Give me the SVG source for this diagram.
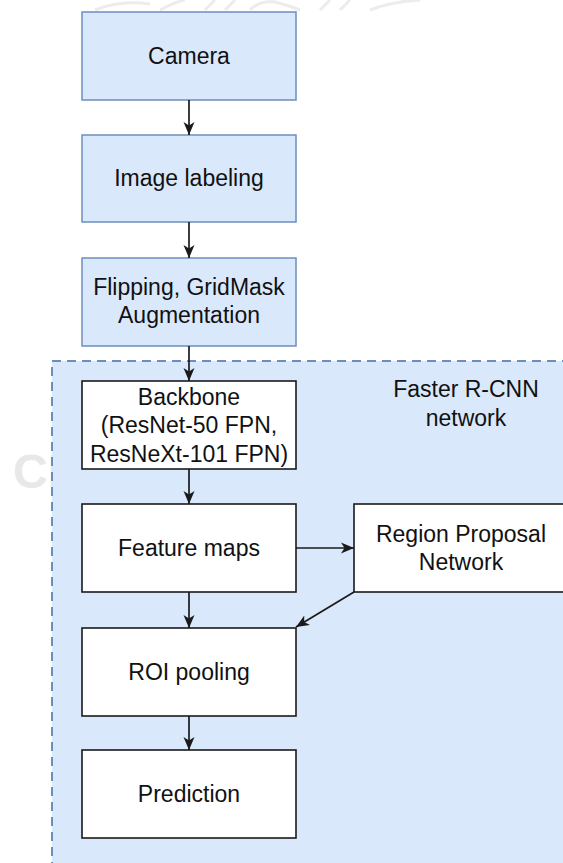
<svg xmlns="http://www.w3.org/2000/svg" width="563" height="863" viewBox="0 0 563 863">
  <defs>
    <style>
      .lbl { font-family: "Liberation Sans", Arial, sans-serif; font-size: 23px; fill: #111111; text-anchor: middle; }
      .blue { fill: #dae8fc; stroke: #6c8ebf; stroke-width: 1.5; }
      .white { fill: #ffffff; stroke: #1a1a1a; stroke-width: 1.6; }
      .edge { fill: none; stroke: #1a1a1a; stroke-width: 1.7; marker-end: url(#arrow); }
      .mark { fill: #e8e8e8; }
    </style>
    <marker id="arrow" markerUnits="userSpaceOnUse" markerWidth="14" markerHeight="14" viewBox="0 0 14 14" refX="13" refY="7" orient="auto">
      <path d="M0,1.5 L13,7 L0,12.5 L3.5,7 Z" fill="#1a1a1a"/>
    </marker>
  </defs>

  <rect width="563" height="863" fill="#ffffff"/>

  <!-- faint watermark behind the drawing -->
  <g id="watermark">
    <path d="M95,10 Q120,0 150,4 M160,10 Q175,2 185,0 M205,10 L215,0 M225,10 L235,0 M250,10 Q260,0 275,2 Q290,6 300,10 M320,10 L330,0 M340,10 L350,0 M370,10 Q390,2 420,0" fill="none" stroke="#ececec" stroke-width="3"/>
    <text x="13" y="488" font-family="Liberation Sans, Arial, sans-serif" font-size="48" font-weight="bold" class="mark">CH</text>
  </g>

  <!-- Faster R-CNN container -->
  <g id="faster-rcnn">
    <rect x="52" y="361" width="530" height="520" fill="#dae8fc" stroke="#6c8ebf" stroke-width="2" stroke-dasharray="9 6"/>
    <text class="lbl" x="466" y="397">Faster R-CNN</text>
    <text class="lbl" x="466" y="426">network</text>
  </g>

  <g id="camera">
    <rect class="blue" x="82" y="12" width="214" height="88"/>
    <text class="lbl" x="189" y="64">Camera</text>
  </g>

  <g id="image-labeling">
    <rect class="blue" x="82" y="135" width="214" height="87"/>
    <text class="lbl" x="189" y="186">Image labeling</text>
  </g>

  <g id="augmentation">
    <rect class="blue" x="82" y="258" width="214" height="88"/>
    <text class="lbl" x="189" y="295">Flipping, GridMask</text>
    <text class="lbl" x="189" y="323">Augmentation</text>
  </g>

  <g id="backbone">
    <rect class="white" x="82" y="381" width="214" height="88"/>
    <text class="lbl" x="189" y="405">Backbone</text>
    <text class="lbl" x="189" y="433">(ResNet-50 FPN,</text>
    <text class="lbl" x="189" y="462">ResNeXt-101 FPN)</text>
  </g>

  <g id="feature-maps">
    <rect class="white" x="82" y="504" width="214" height="88"/>
    <text class="lbl" x="189" y="556">Feature maps</text>
  </g>

  <g id="rpn">
    <rect class="white" x="354" y="504" width="214" height="88"/>
    <text class="lbl" x="461" y="542">Region Proposal</text>
    <text class="lbl" x="461" y="570">Network</text>
  </g>

  <g id="roi-pooling">
    <rect class="white" x="82" y="628" width="214" height="88"/>
    <text class="lbl" x="189" y="680">ROI pooling</text>
  </g>

  <g id="prediction">
    <rect class="white" x="82" y="750" width="214" height="88"/>
    <text class="lbl" x="189" y="802">Prediction</text>
  </g>

  <g id="connectors">
    <line class="edge" x1="189" y1="100" x2="189" y2="135"/>
    <line class="edge" x1="189" y1="222" x2="189" y2="258"/>
    <line class="edge" x1="189" y1="346" x2="189" y2="381"/>
    <line class="edge" x1="189" y1="469" x2="189" y2="504"/>
    <line class="edge" x1="296" y1="548" x2="354" y2="548"/>
    <line class="edge" x1="189" y1="592" x2="189" y2="628"/>
    <line class="edge" x1="354" y1="592" x2="296" y2="627"/>
    <line class="edge" x1="189" y1="716" x2="189" y2="750"/>
  </g>
</svg>
